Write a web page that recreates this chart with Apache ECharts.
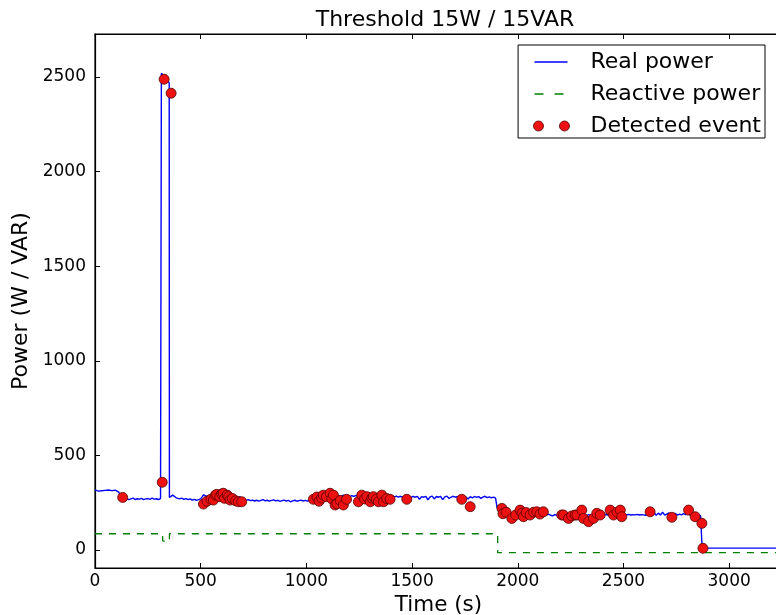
<!DOCTYPE html>
<html><head><meta charset="utf-8">
<script src="https://cdn.jsdelivr.net/npm/echarts@6/dist/echarts.min.js"></script>
<style>html,body{margin:0;padding:0;background:#fff}#c{width:776px;height:615px}</style>
</head><body><div id="c"></div>
<script>
const titleText = 'Threshold 15W / 15VAR';
const xName = 'Time (s)';
const yName = 'Power (W / VAR)';
const xTicks = [0, 500, 1000, 1500, 2000, 2500, 3000];
const yTicks = [0, 500, 1000, 1500, 2000, 2500];

const realPower = [
[0,318],[8,314],[16,311],[24,316],[32,313],[40,309],[48,315],[56,312],[64,317],[72,311],[80,314],[88,310],[96,316],[104,313],[112,306],[118,300],[124,280],[130,271],
[140,268],[150,272],[160,266],[170,270],[180,274],[190,267],[200,271],[210,269],[220,273],[230,266],[240,270],[250,272],[260,268],[270,274],[280,269],[290,271],[300,267],[310,272],[313,272],
[314,2520],[330,2500],[340,2485],[351,2470],[352,278],
[360,282],[368,290],[376,280],[384,276],[392,272],[400,270],[410,274],[420,268],[430,272],[440,266],[450,270],[460,264],[470,268],[480,262],[490,266],[500,270],[508,262],[514,292],[520,300],[526,284],[535,280],[545,286],[555,282],[565,288],[575,284],[585,290],[595,283],[605,287],[615,281],[625,286],[635,280],[645,284],[655,278],[665,283],[675,277],[685,281],[695,274],
[705,265],[715,262],[725,266],[735,261],[745,264],[755,259],[765,263],[775,258],[785,262],[795,266],[805,260],[815,263],[825,258],[835,262],[845,265],[855,260],[865,263],[875,257],[885,261],[895,264],[905,258],[915,262],[925,255],[935,260],[945,263],[955,258],[965,261],[975,264],[985,259],[995,262],[1005,258],[1015,263],[1025,266],
[1035,278],[1045,284],[1055,280],[1065,287],[1075,282],[1085,289],[1095,284],[1105,290],[1115,285],[1125,292],[1135,286],[1145,280],[1155,288],[1165,283],[1175,290],[1185,285],[1195,288],[1205,282],[1215,287],[1225,283],[1235,289],[1245,284],[1255,290],[1265,286],[1275,282],[1285,288],[1295,284],[1305,289],[1315,285],[1325,280],[1335,287],[1345,283],[1355,288],[1365,284],[1375,280],[1385,286],[1395,282],[1405,287],[1415,281],[1425,285],[1435,280],[1445,284],[1455,279],[1465,283],[1475,278],[1485,282],[1495,278],
[1505,283],[1515,279],[1525,284],[1535,268],[1545,282],[1555,279],[1565,284],[1575,265],[1585,281],[1595,285],[1605,270],[1615,283],[1625,279],[1635,284],[1645,266],[1655,281],[1665,285],[1675,272],[1685,280],[1695,284],[1705,279],[1715,283],[1725,276],[1735,281],[1745,285],[1755,280],[1765,270],[1775,282],[1785,276],[1795,283],[1805,278],[1815,282],[1825,273],[1835,280],[1845,284],[1855,277],[1865,281],[1875,276],[1885,280],[1895,274],[1900,272],
[1902,225],[1910,215],[1918,200],[1925,190],[1935,184],[1945,188],[1955,182],[1965,186],[1975,180],[1985,189],[1995,183],[2005,187],[2015,181],[2025,190],[2035,184],[2045,188],[2055,183],[2065,191],[2075,185],[2085,189],[2095,183],[2105,187],[2115,182],[2125,188],[2135,184],[2145,190],[2155,185],[2165,180],[2175,187],[2185,183],[2195,189],[2205,184],[2215,179],[2225,186],[2235,182],[2245,188],[2255,184],[2265,180],[2275,187],[2285,183],[2295,190],[2305,196],[2315,185],[2325,181],[2335,187],[2345,183],[2355,189],[2365,184],[2375,188],[2385,182],[2395,187],[2405,183],[2415,189],[2425,185],[2435,190],[2445,186],[2455,183],[2465,188],[2475,184],[2485,189],[2495,185],
[2505,188],[2515,186],[2525,188],[2535,185],[2545,187],[2555,186],[2565,188],[2575,185],[2585,187],[2595,186],[2605,184],[2615,187],[2625,190],[2635,186],[2645,198],[2655,183],[2665,195],[2675,185],[2685,200],[2695,184],[2705,190],[2715,196],[2725,182],[2735,188],[2745,193],[2755,185],[2765,190],[2775,186],[2785,192],[2795,187],[2805,191],[2815,186],[2825,189],[2835,185],[2845,188],[2855,184],[2865,182],[2870,180],
[2872,12],[2900,10],[3000,10],[3100,10],[3250,10]
];

const reactivePower = [
[0,86],[320,86],[320,48],[352,44],[352,86],[1905,86],[1905,-14],[3250,-14]
];

const detectedEvents = [
[131,278],[318,358],[327,2488],[360,2414],
[513,243],[530,258],[548,268],[560,264],[570,290],[576,294],[590,282],[600,296],[607,300],[613,273],[625,290],[632,282],[639,264],[650,272],[665,260],[678,255],[694,255],
[1033,268],[1050,280],[1060,258],[1072,275],[1080,290],[1095,282],[1112,300],[1120,270],[1128,290],[1136,238],[1144,245],[1160,262],[1175,238],[1190,268],[1246,255],[1262,290],[1275,270],[1286,282],[1302,255],[1310,275],[1317,282],[1330,268],[1341,255],[1357,290],[1365,255],[1380,272],[1396,268],[1475,268],[1735,268],[1775,229],
[1925,220],[1930,192],[1945,200],[1972,167],[1990,185],[2011,211],[2020,195],[2027,176],[2040,198],[2058,185],[2075,200],[2090,202],[2105,190],[2121,202],[2208,185],[2216,185],[2240,167],[2255,180],[2271,185],[2280,185],[2303,211],[2311,167],[2335,150],[2358,167],[2374,194],[2390,185],[2437,211],[2453,185],[2470,200],[2485,211],[2492,176],[2626,202],[2729,173],[2808,211],[2839,176],[2871,141],[2876,9]
];

const FONT = 'DejaVu Sans';
const chart = echarts.init(document.getElementById('c'), null, {renderer: 'canvas'});
const tickStyle = {show: true, inside: true, length: 5, lineStyle: {color: '#000', width: 1}};
const plain = v => String(v);
chart.setOption({
  animation: false,
  backgroundColor: '#fff',
  title: {
    text: titleText, left: 440, top: 4, textAlign: 'center',
    textStyle: {fontFamily: FONT, fontSize: 22, fontWeight: 'normal', color: '#000'}
  },
  legend: {
    orient: 'vertical', right: 11, top: 45,
    padding: [6, 4, 1, 15], itemGap: 10, itemWidth: 36, itemHeight: 10,
    backgroundColor: '#fff', borderColor: '#000', borderWidth: 1, borderRadius: 0,
    textStyle: {fontFamily: FONT, fontSize: 22, color: '#000', padding: [0, 0, 0, 16]},
    data: [
      {name: 'Real power', icon: 'path://M0,0h.01v.01h-.01zM1,4.35h33v1.3h-33zM35.99,9.99h.01v.01h-.01z',
       itemStyle: {color: '#0000ff', borderWidth: 0}},
      {name: 'Reactive power', icon: 'path://M0,0h.01v.01h-.01zM1,4.35h9v1.3h-9zM21,4.35h9v1.3h-9zM35.99,9.99h.01v.01h-.01z',
       itemStyle: {color: '#008000', borderWidth: 0}},
      {name: 'Detected event', icon: 'path://M0,5a5,5 0 1,0 10,0a5,5 0 1,0 -10,0zM26,5a5,5 0 1,0 10,0a5,5 0 1,0 -10,0z',
       itemStyle: {color: '#ee1111', borderColor: '#550000', borderWidth: 0.8}}
    ]
  },
  grid: {left: 95, top: 34, width: 687, height: 534, show: true, borderColor: '#000', borderWidth: 1.2,
         backgroundColor: 'transparent', containLabel: false, outerBoundsMode: 'none'},
  xAxis: [{
    type: 'value', min: 0, max: 3250, interval: 500,
    name: xName, nameLocation: 'middle', nameGap: 23,
    nameTextStyle: {fontFamily: FONT, fontSize: 21.5, color: '#000'},
    axisLine: {show: true, onZero: false, lineStyle: {color: '#000', width: 1.2}},
    axisTick: Object.assign({}, tickStyle, {customValues: xTicks}),
    axisLabel: {fontFamily: FONT, fontSize: 17, color: '#000', margin: 5, customValues: xTicks, formatter: plain},
    splitLine: {show: false}
  }, {
    type: 'value', min: 0, max: 3250, interval: 500, position: 'top',
    axisLine: {show: true, onZero: false, lineStyle: {color: '#000', width: 1.2}},
    axisTick: Object.assign({}, tickStyle, {customValues: xTicks}), axisLabel: {show: false}, splitLine: {show: false}
  }],
  yAxis: [{
    type: 'value', min: -95, max: 2727,
    name: yName, nameLocation: 'middle', nameGap: 49, nameRotate: 90,
    nameTextStyle: {fontFamily: FONT, fontSize: 22, color: '#000'},
    axisLine: {show: true, onZero: false, lineStyle: {color: '#000', width: 1.2}},
    axisTick: Object.assign({}, tickStyle, {customValues: yTicks}),
    axisLabel: {fontFamily: FONT, fontSize: 17, color: '#000', margin: 9, customValues: yTicks, formatter: plain},
    splitLine: {show: false}
  }],
  series: [{
    name: 'Real power', type: 'line', data: realPower, showSymbol: false, symbol: 'none',
    color: '#0000ff', lineStyle: {color: '#0000ff', width: 1.4}, z: 2
  }, {
    name: 'Reactive power', type: 'line', data: reactivePower, showSymbol: false, symbol: 'none',
    color: '#008000', lineStyle: {color: '#008000', width: 1.3, type: [7, 7]}, z: 2
  }, {
    name: 'Detected event', type: 'scatter', data: detectedEvents, symbol: 'circle', symbolSize: 10,
    color: '#ee1111', itemStyle: {color: '#ee1111', borderColor: '#550000', borderWidth: 0.8, opacity: 1}, z: 3
  }]
});
</script>
</body></html>
